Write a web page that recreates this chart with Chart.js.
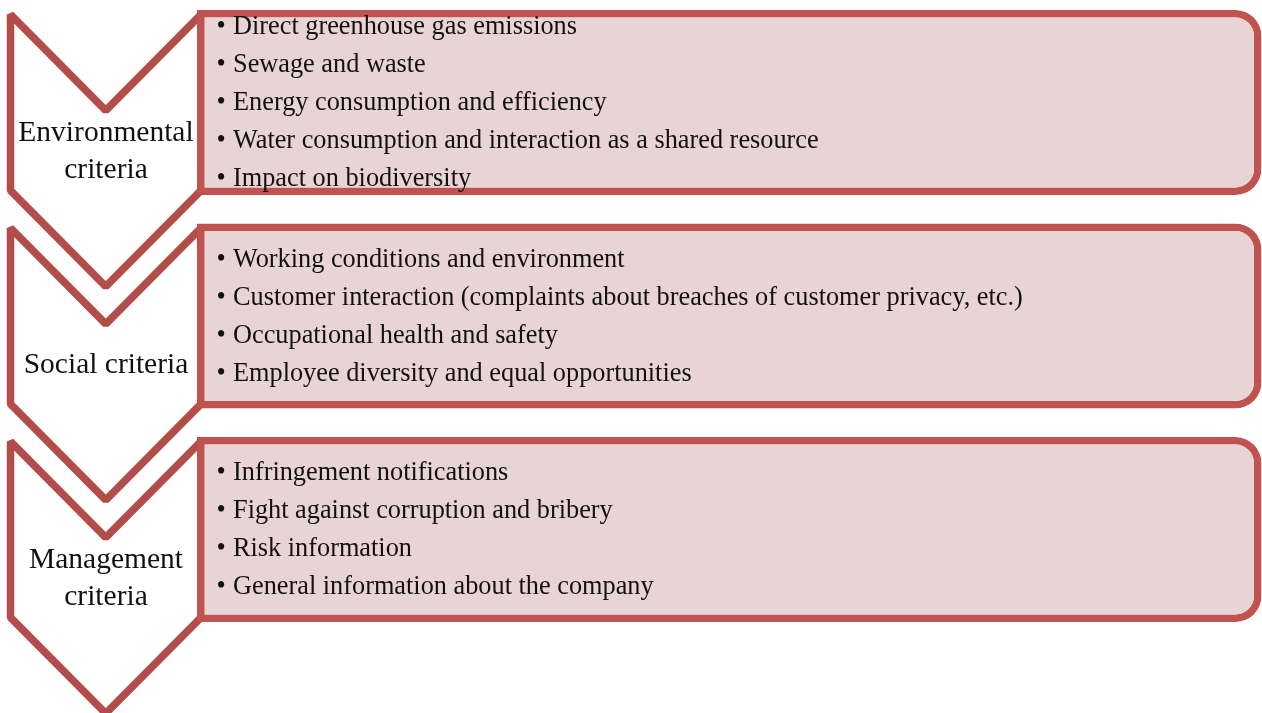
<!DOCTYPE html>
<html>
<head>
<meta charset="utf-8">
<script src="https://cdn.jsdelivr.net/npm/chart.js@4.4.1/dist/chart.umd.min.js"></script>
<style>
  html, body { margin: 0; padding: 0; background: #ffffff; }
  #wrap { width: 1262px; height: 713px; position: relative; }
</style>
</head>
<body>
<div id="wrap"><canvas id="diagram"></canvas></div>
<script>
// Categories (one chevron + one box each)
const criteria = ['Environmental criteria', 'Social criteria', 'Management criteria'];
const criteriaLabelLines = [['Environmental', 'criteria'], ['Social criteria'], ['Management', 'criteria']];

// Bullet items for each box
const environmentalItems = [
  'Direct greenhouse gas emissions',
  'Sewage and waste',
  'Energy consumption and efficiency',
  'Water consumption and interaction as a shared resource',
  'Impact on biodiversity'
];
const socialItems = [
  'Working conditions and environment',
  'Customer interaction (complaints about breaches of customer privacy, etc.)',
  'Occupational health and safety',
  'Employee diversity and equal opportunities'
];
const managementItems = [
  'Infringement notifications',
  'Fight against corruption and bribery',
  'Risk information',
  'General information about the company'
];
const itemGroups = [environmentalItems, socialItems, managementItems];

// Layout (pixel units of the hidden linear scales)
const LAYOUT = {
  width: 1262, height: 713,
  boxLeft: 197, boxRight: 1261.5, boxTop: 10, boxHeight: 185, boxStep: 213.5,
  chevLeft: 10.5, chevRight: 201, chevDepth: 96,
  lineGap: 38, labelGap: 37, bulletX: 221, textX: 233, labelX: 106
};
const COLORS = {
  chevron: '#b34d4a',
  boxBorder: '#c0524f',
  boxFill: '#e8d4d5',
  text: '#111111'
};
const FONT = '26.3px "Liberation Serif", "Times New Roman", serif';
const LABEL_FONT = '29.5px "Liberation Serif", "Times New Roman", serif';

const boxCenter = i => LAYOUT.boxTop + i * LAYOUT.boxStep + LAYOUT.boxHeight / 2;

// chevrons and text drawn on the same scales as the boxes
const diagramPlugin = {
  id: 'diagram',
  beforeDatasetsDraw(chart) {
    const { ctx, scales: { x, y } } = chart;
    ctx.save();
    ctx.strokeStyle = COLORS.chevron;
    ctx.lineWidth = 7.5;
    ctx.lineJoin = 'bevel';
    criteria.forEach((c, i) => {
      const top = LAYOUT.boxTop + i * LAYOUT.boxStep + 4.5;
      const side = LAYOUT.boxTop + i * LAYOUT.boxStep + LAYOUT.boxHeight - 4.5;
      const mid = (LAYOUT.chevLeft + LAYOUT.chevRight) / 2;
      ctx.beginPath();
      ctx.moveTo(x.getPixelForValue(LAYOUT.chevRight), y.getPixelForValue(top));
      ctx.lineTo(x.getPixelForValue(mid), y.getPixelForValue(top + LAYOUT.chevDepth));
      ctx.lineTo(x.getPixelForValue(LAYOUT.chevLeft), y.getPixelForValue(top));
      ctx.lineTo(x.getPixelForValue(LAYOUT.chevLeft), y.getPixelForValue(side));
      ctx.lineTo(x.getPixelForValue(mid), y.getPixelForValue(side + LAYOUT.chevDepth));
      ctx.lineTo(x.getPixelForValue(LAYOUT.chevRight), y.getPixelForValue(side));
      ctx.closePath();
      ctx.stroke();
    });
    ctx.restore();
  },
  afterDatasetsDraw(chart) {
    const { ctx, scales: { x, y } } = chart;
    ctx.save();
    ctx.fillStyle = COLORS.text;
    ctx.textBaseline = 'alphabetic';

    // labels inside the chevrons
    ctx.font = LABEL_FONT;
    criteriaLabelLines.forEach((lines, i) => {
      const top = LAYOUT.boxTop + i * LAYOUT.boxStep + 4.5;
      const side = LAYOUT.boxTop + i * LAYOUT.boxStep + LAYOUT.boxHeight - 4.5;
      const centre = (top + LAYOUT.chevDepth + side) / 2 + 8.5;
      ctx.textAlign = 'center';
      lines.forEach((line, k) => {
        const yy = centre + (k - (lines.length - 1) / 2) * LAYOUT.labelGap;
        ctx.fillText(line, x.getPixelForValue(LAYOUT.labelX), y.getPixelForValue(yy));
      });
    });

    // bullet lists inside the boxes
    ctx.font = FONT;
    itemGroups.forEach((items, i) => {
      const centre = boxCenter(i) + 7.5;
      items.forEach((item, k) => {
        const yy = centre + (k - (items.length - 1) / 2) * LAYOUT.lineGap;
        ctx.textAlign = 'center';
        ctx.fillText('\u2022', x.getPixelForValue(LAYOUT.bulletX), y.getPixelForValue(yy));
        ctx.textAlign = 'left';
        ctx.fillText(item, x.getPixelForValue(LAYOUT.textX), y.getPixelForValue(yy));
      });
    });
    ctx.restore();
  }
};

new Chart(document.getElementById('diagram'), {
  type: 'bar',
  data: {
    labels: criteria,
    datasets: [{
      label: 'criteria',
      data: criteria.map((c, i) => ({ x: [LAYOUT.boxLeft, LAYOUT.boxRight], y: boxCenter(i) })),
      backgroundColor: COLORS.boxFill,
      borderColor: COLORS.boxBorder,
      borderWidth: 7.5,
      borderSkipped: false,
      borderRadius: { topLeft: 0, bottomLeft: 0, topRight: 26, bottomRight: 26 },
      barThickness: LAYOUT.boxHeight,
      inflateAmount: 0,
      clip: false
    }]
  },
  options: {
    indexAxis: 'y',
    responsive: true,
    maintainAspectRatio: false,
    animation: false,
    events: [],
    layout: { padding: 0 },
    plugins: {
      legend: { display: false },
      tooltip: { enabled: false }
    },
    scales: {
      x: { type: 'linear', min: 0, max: LAYOUT.width, offset: false, display: false },
      y: { type: 'linear', min: 0, max: LAYOUT.height, reverse: true, offset: false, display: false }
    }
  },
  plugins: [diagramPlugin]
});
</script>
</body>
</html>
